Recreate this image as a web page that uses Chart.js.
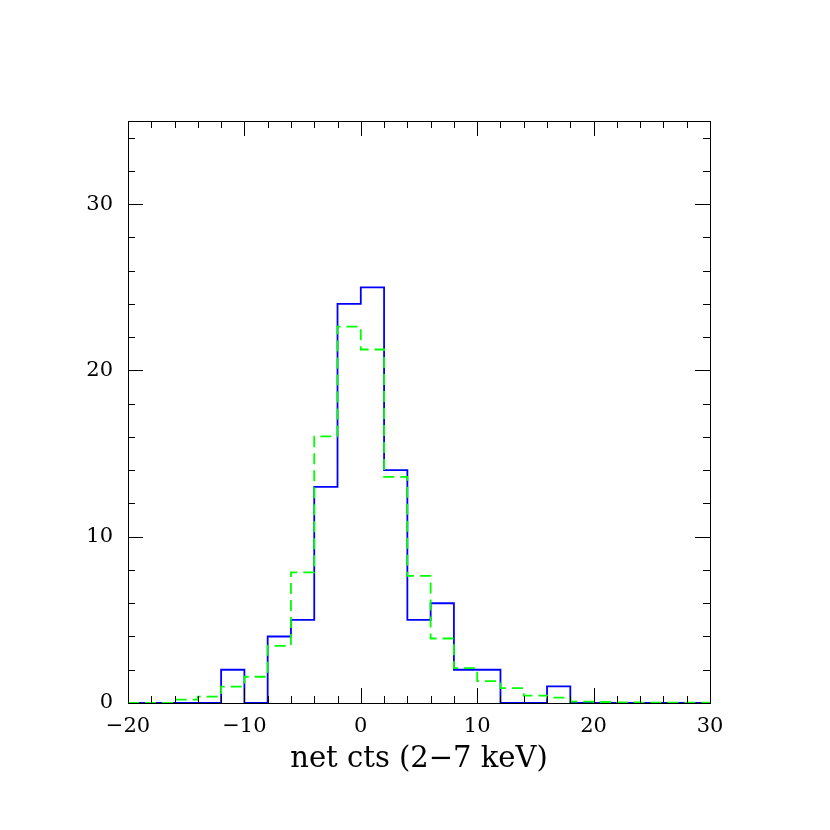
<!DOCTYPE html>
<html>
<head>
<meta charset="utf-8">
<script src="https://cdn.jsdelivr.net/npm/chart.js@4.4.1/dist/chart.umd.min.js"></script>
<style>
  html, body { margin: 0; padding: 0; background: #fff; }
  #wrap { width: 830px; height: 830px; }
</style>
</head>
<body>
<div id="wrap"><canvas id="chart-hist"></canvas></div>
<script>
// bin left edges (width 2), from -20 up to 28
const binEdges = [-20, -18, -16, -14, -12, -10, -8, -6, -4, -2, 0, 2, 4, 6, 8, 10, 12, 14, 16, 18, 20, 22, 24, 26, 28];
const binWidth = 2;

// observed counts (blue, solid)
const observed = [0, 0, 0, 0, 2, 0, 4, 5, 13, 24, 25, 14, 5, 6, 2, 2, 0, 0, 1, 0, 0, 0, 0, 0, 0];

// expected / simulated counts (green, dashed)
const expected = [0, 0, 0.2, 0.38, 0.98, 1.58, 3.44, 7.86, 16.04, 22.64, 21.26, 13.6, 7.64, 3.88, 2.1, 1.32, 0.9, 0.44, 0.32, 0.08, 0.06, 0.04, 0.02, 0.02, 0.02];

const xMajorTicks = [-20, -10, 0, 10, 20, 30];
const yMajorTicks = [0, 10, 20, 30];

const X_MIN = -20, X_MAX = 30, Y_MIN = 0, Y_MAX = 35;

// value i holds from binEdges[i] to binEdges[i] + binWidth
function stepPoints(values) {
    let pts = binEdges.map((e, i) => ({x: e, y: values[i]}));
    pts.push({x: binEdges[binEdges.length - 1] + binWidth, y: values[values.length - 1]});
    return pts;
}

function fmt(v) {
    return v < 0 ? '\u2212' + Math.abs(v) : String(v);
}

// frame plus inward ticks on all four sides
const frameTicks = {
    id: 'frameTicks',
    afterDatasetsDraw(chart) {
        const ctx = chart.ctx;
        const a = chart.chartArea;
        const xs = chart.scales.x, ys = chart.scales.y;
        ctx.save();
        ctx.strokeStyle = '#000';
        ctx.lineWidth = 1;
        ctx.strokeRect(a.left + 0.5, a.top + 0.5, a.right - a.left, a.bottom - a.top);
        ctx.beginPath();
        for (let v = X_MIN; v <= X_MAX; v += 2) {
            const px = Math.round(xs.getPixelForValue(v)) + 0.5;
            const len = (v % 10 === 0) ? 15 : 7;
            ctx.moveTo(px, a.bottom); ctx.lineTo(px, a.bottom - len);
            ctx.moveTo(px, a.top); ctx.lineTo(px, a.top + len);
        }
        for (let v = Y_MIN; v <= Y_MAX; v += 2) {
            const py = Math.round(ys.getPixelForValue(v)) + 0.5;
            const len = (v % 10 === 0) ? 15 : 7;
            ctx.moveTo(a.left, py); ctx.lineTo(a.left + len, py);
            ctx.moveTo(a.right, py); ctx.lineTo(a.right - len, py);
        }
        ctx.stroke();
        ctx.restore();
    }
};

const ctx = document.getElementById('chart-hist');
const chart = new Chart(ctx, {
    type: 'line',
    data: {
        datasets: [
            {
                label: 'expected',
                data: stepPoints(expected),
                stepped: 'before',
                borderColor: '#00ff00',
                borderWidth: 1.8,
                borderDash: [11, 6],
                pointRadius: 0,
                fill: false
            },
            {
                label: 'observed',
                data: stepPoints(observed),
                stepped: 'before',
                borderColor: '#0000ff',
                borderWidth: 1.8,
                pointRadius: 0,
                fill: false
            }
        ]
    },
    options: {
        responsive: true,
        maintainAspectRatio: false,
        animation: false,
        layout: { padding: { left: 0, right: 120, top: 121, bottom: 53 } },
        plugins: { legend: { display: false }, tooltip: { enabled: false } },
        scales: {
            x: {
                type: 'linear',
                min: X_MIN, max: X_MAX,
                afterBuildTicks: (s) => { s.ticks = xMajorTicks.map(v => ({value: v})); },
                afterFit: (s) => { s.height = 74; },
                grid: { display: false, drawTicks: false },
                border: { display: false },
                ticks: {
                    color: '#000',
                    padding: 11,
                    font: { family: 'DejaVu Serif', size: 21 },
                    callback: (v) => fmt(v)
                },
                title: {
                    display: true,
                    text: 'net cts (2\u22127 keV)',
                    color: '#000',
                    padding: { top: 2, bottom: 0 },
                    font: { family: 'DejaVu Serif', size: 29 }
                }
            },
            y: {
                type: 'linear',
                min: Y_MIN, max: Y_MAX,
                afterBuildTicks: (s) => { s.ticks = yMajorTicks.map(v => ({value: v})); },
                afterFit: (s) => { s.width = 128; },
                grid: { display: false, drawTicks: false },
                border: { display: false },
                ticks: {
                    color: '#000',
                    padding: 15,
                    font: { family: 'DejaVu Serif', size: 21 },
                    callback: (v) => fmt(v)
                }
            }
        }
    },
    plugins: [frameTicks]
});
</script>
</body>
</html>
